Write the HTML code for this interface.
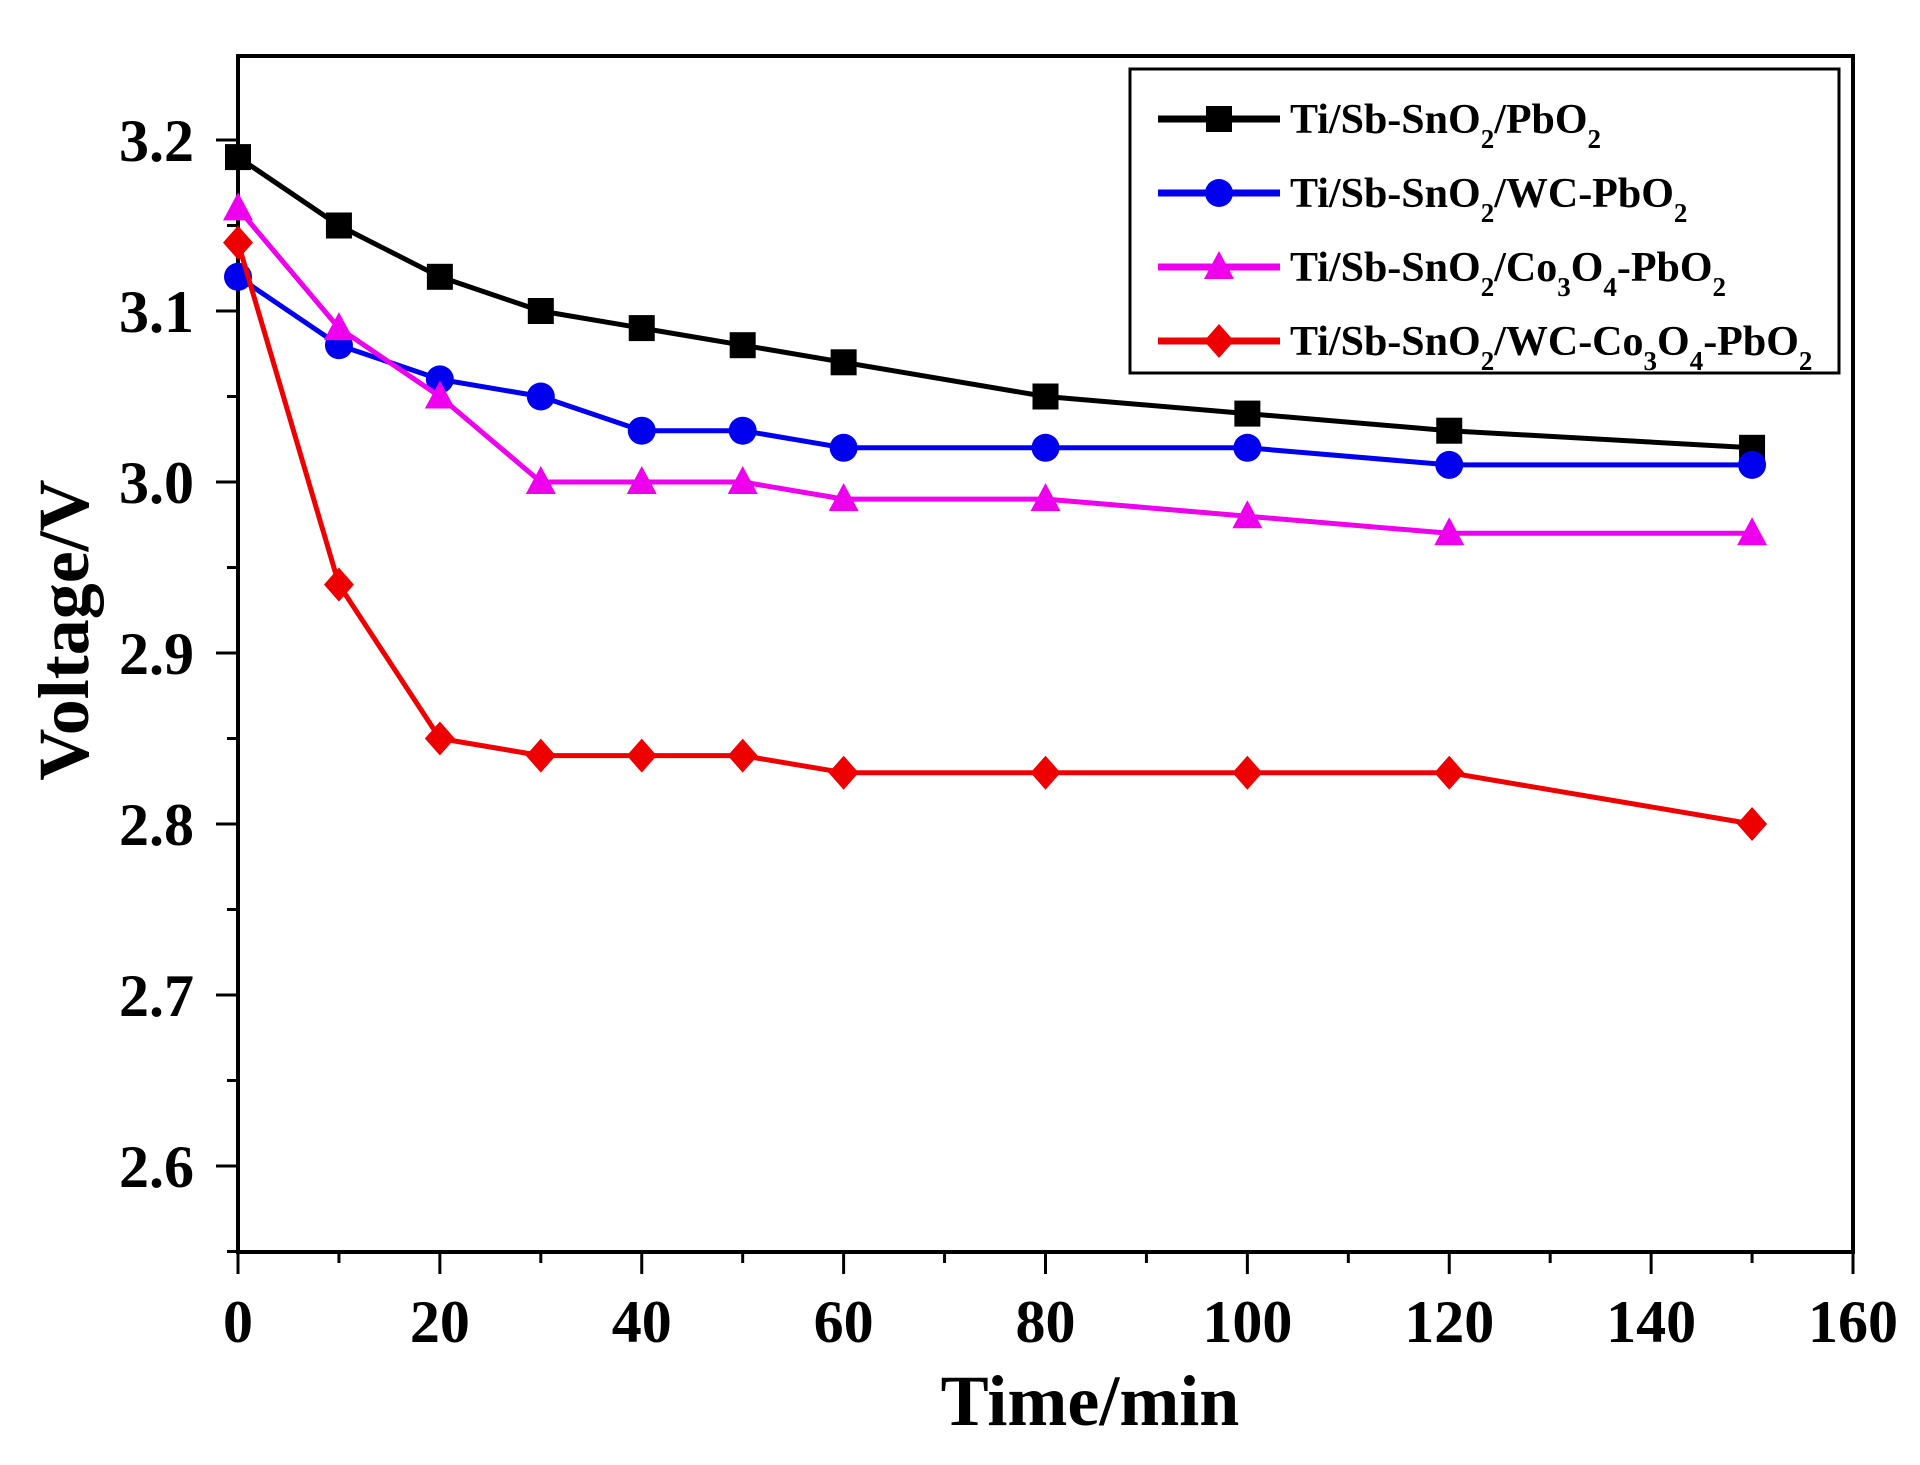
<!DOCTYPE html>
<html><head><meta charset="utf-8"><style>
html,body{margin:0;padding:0;background:#fff;}
svg{display:block;}
text{font-family:"Liberation Serif",serif;font-weight:bold;fill:#000;}
</style></head><body>
<svg id="s" width="1920" height="1465" viewBox="0 0 1920 1465" xmlns="http://www.w3.org/2000/svg">
<rect width="1920" height="1465" fill="#fff"/>
<g id="ax"></g>
<g id="data"></g>
<rect x="1130" y="69" width="709" height="304" fill="#fff" stroke="#000" stroke-width="3"/>
<g id="leg"></g>
<text x="1090" y="1425" font-size="72" text-anchor="middle">Time/min</text>
<text transform="translate(88,630) rotate(-90)" font-size="72" text-anchor="middle">Voltage/V</text>
</svg>
<script>
const NS="http://www.w3.org/2000/svg";
const L=238,R=1853,T=56,B=1252;
const X=t=>L+t*(R-L)/160, Y=v=>140+(3.2-v)*1710;
function el(p,tag,a,txt){const e=document.createElementNS(NS,tag);for(const k in a)e.setAttribute(k,a[k]);if(txt!=null)e.textContent=txt;p.appendChild(e);return e;}
const ax=document.getElementById('ax');
el(ax,'rect',{x:L,y:T,width:R-L,height:B-T,fill:'none',stroke:'#000','stroke-width':4});
for(let t=0;t<=160;t+=10){const maj=t%20==0;el(ax,'line',{x1:X(t),x2:X(t),y1:B,y2:B+(maj?22:11),stroke:'#000','stroke-width':3});
 if(maj)el(ax,'text',{x:X(t),y:1342,'font-size':60,'text-anchor':'middle'},String(t));}
for(let i=0;i<=13;i++){const v=2.55+i*0.05;const y=Y(v);if(y<T-1)continue;const maj=i%2==1;
 el(ax,'line',{x1:L,x2:L-(maj?22:11),y1:y,y2:y,stroke:'#000','stroke-width':3});
 if(maj)el(ax,'text',{x:194,y:y+21,'font-size':60,'text-anchor':'end'},v.toFixed(1));}
const ts=[0,10,20,30,40,50,60,80,100,120,150];
const S=[
 {c:'#000',m:'sq',v:[3.19,3.15,3.12,3.10,3.09,3.08,3.07,3.05,3.04,3.03,3.02]},
 {c:'#0000ee',m:'ci',v:[3.12,3.08,3.06,3.05,3.03,3.03,3.02,3.02,3.02,3.01,3.01]},
 {c:'#ee00ee',m:'tr',v:[3.16,3.09,3.05,3.00,3.00,3.00,2.99,2.99,2.98,2.97,2.97]},
 {c:'#ee0000',m:'di',v:[3.14,2.94,2.85,2.84,2.84,2.84,2.83,2.83,2.83,2.83,2.80]}];
function mk(g,m,x,y,c){
 if(m=='sq')el(g,'rect',{x:x-13,y:y-13,width:26,height:26,fill:c});
 if(m=='ci')el(g,'circle',{cx:x,cy:y,r:14,fill:c});
 if(m=='tr')el(g,'polygon',{points:`${x},${y-16} ${x+15},${y+12} ${x-15},${y+12}`,fill:c});
 if(m=='di')el(g,'polygon',{points:`${x},${y-17} ${x+15},${y} ${x},${y+17} ${x-15},${y}`,fill:c});}
const d=document.getElementById('data');
S.forEach(s=>{el(d,'polyline',{points:ts.map((t,i)=>X(t)+','+Y(s.v[i])).join(' '),fill:'none',stroke:s.c,'stroke-width':5,'stroke-linejoin':'round'});
 ts.forEach((t,i)=>mk(d,s.m,X(t),Y(s.v[i]),s.c));});
const lg=document.getElementById('leg');
const sb=n=>`<tspan baseline-shift="sub" font-size="27">${n}</tspan>`;
const labs=['Ti/Sb-SnO'+sb(2)+'/PbO'+sb(2),
'Ti/Sb-SnO'+sb(2)+'/WC-PbO'+sb(2),
'Ti/Sb-SnO'+sb(2)+'/Co'+sb(3)+'O'+sb(4)+'-PbO'+sb(2),
'Ti/Sb-SnO'+sb(2)+'/WC-Co'+sb(3)+'O'+sb(4)+'-PbO'+sb(2)];
S.forEach((s,i)=>{const y=119+i*74;
 el(lg,'line',{x1:1158,x2:1280,y1:y,y2:y,stroke:s.c,'stroke-width':7});mk(lg,s.m,1219,y,s.c);
 const t=el(lg,'text',{x:1290,y:y+14,'font-size':42});t.innerHTML=labs[i];});
</script>
</body></html>
